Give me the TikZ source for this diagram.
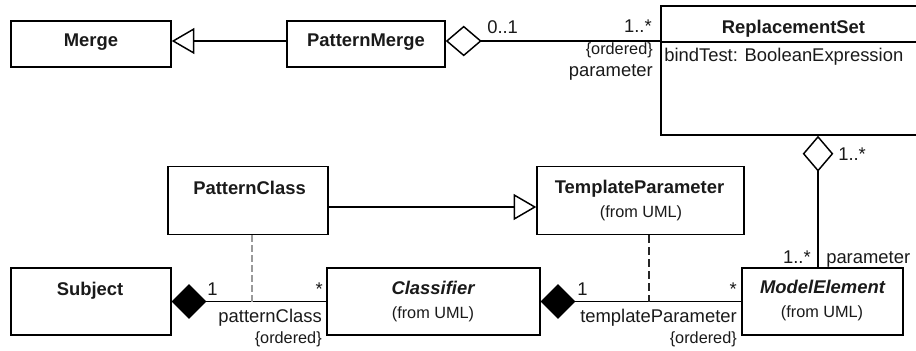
\documentclass[tikz,border=0pt]{standalone}
\usepackage{fontspec}
\setmainfont{Liberation Sans}
\usetikzlibrary{arrows.meta}
\definecolor{ink}{HTML}{1A1A1A}
\definecolor{dashgray}{HTML}{9A9A9A}
\begin{document}
\begin{tikzpicture}[x=0.75pt,y=-0.75pt,
  box/.style={draw=black, line width=1.1pt, fill=white, rectangle, inner sep=0pt},
  cname/.style={font=\fontsize{13.8}{16}\selectfont\bfseries, text=ink, inner sep=0pt, anchor=base},
  aname/.style={font=\fontsize{13.8}{16}\selectfont\bfseries\itshape, text=ink, inner sep=0pt, anchor=base},
  lbl/.style={font=\fontsize{13.8}{16}\selectfont, text=ink, inner sep=0pt},
  small/.style={font=\fontsize{12.2}{14}\selectfont, text=ink, inner sep=0pt},
  assoc/.style={draw=black, line width=1.1pt},
  gen/.style={assoc, -{Triangle[open, length=17pt, width=19.5pt, fill=white]}},
  agg/.style={assoc, {Diamond[open, length=27pt, width=23pt, fill=white]}-},
  comp/.style={assoc, {Diamond[length=26pt, width=26pt]}-},
  dashA/.style={draw=dashgray, line width=1.1pt, dash pattern=on 5pt off 2.5pt},
  dashB/.style={draw=black!85, line width=1pt, dash pattern=on 6pt off 3pt}
]
\useasboundingbox (0,0) rectangle (916,350);
\clip (0,0) rectangle (916,350);
\fill[white] (0,0) rectangle (916,350);

% helper coordinates for connector rows and columns
\coordinate (yA) at (0,41);
\coordinate (yG) at (0,207);
\coordinate (xR) at (818,0);
\coordinate (xD1) at (252,0);
\coordinate (xD2) at (649,0);

% class boxes
\node[box, minimum width=120pt, minimum height=34.5pt] (merge) at (91,44) {};
\node[box, minimum width=118.5pt, minimum height=34.5pt] (pmerge) at (366,44) {};
\node[box, minimum width=201.75pt, minimum height=96.75pt] (rs) at (795.5,70.5) {};
\node[box, minimum width=120pt, minimum height=51pt] (pclass) at (248,200.5) {};
\node[box, minimum width=155.25pt, minimum height=51pt] (tparam) at (640.5,200.5) {};
\node[box, minimum width=120pt, minimum height=50.25pt] (subject) at (91,301.5) {};
\node[box, minimum width=159.75pt, minimum height=50.25pt] (classifier) at (433.5,301.5) {};
\node[box, minimum width=120.75pt, minimum height=50.25pt] (modelel) at (822.5,301.5) {};

% attribute compartment of ReplacementSet
\draw[assoc] (rs.west |- 0,42) -- (rs.east |- 0,42);

% class names and compartments
\node[cname] (tmerge) at (91,46) {Merge};
\node[cname] (tpmerge) at (366,46) {PatternMerge};
\node[cname] (trs) at (793.5,33) {ReplacementSet};
\node[lbl, anchor=base west] (tbind) at (664,61) {bindTest: BooleanExpression};
\node[cname] (tpclass) at (249.5,194) {PatternClass};
\node[cname] (ttparam) at (639.5,193) {TemplateParameter};
\node[small, anchor=base] (ftparam) at (641,217) {(from UML)};
\node[cname] (tsubject) at (90,295) {Subject};
\node[aname] (tclassifier) at (433,294) {Classifier};
\node[small, anchor=base] (fclassifier) at (433,318) {(from UML)};
\node[aname] (tmodelel) at (822.5,293) {ModelElement};
\node[small, anchor=base] (fmodelel) at (822,317) {(from UML)};

% generalizations
\draw[gen] (pmerge.west |- yA) -- (merge.east |- yA);
\draw[gen] (pclass.east |- yG) -- (tparam.west |- yG);

% aggregations
\draw[agg] (pmerge.east |- yA) -- (rs.west |- yA);
\draw[agg] (rs.south -| xR) -- (modelel.north -| xR);

% compositions
\draw[comp] (subject.east) -- (classifier.west);
\draw[comp] (classifier.east) -- (modelel.west);

% association classes
\draw[dashA] (pclass.south -| xD1) -- (xD1 |- subject.east);
\draw[dashB] (tparam.south -| xD2) -- (xD2 |- classifier.east);

% association end labels
\node[lbl, anchor=base west] (m01) at (487,33) {0..1};
\node[lbl, anchor=base east] (m1sA) at (652,32) {1..*};
\node[small, anchor=base east] (ordA) at (653,54) {\{ordered\}};
\node[lbl, anchor=base east] (parA) at (653,76) {parameter};

\node[lbl, anchor=base west] (m1sB) at (838,160) {1..*};
\node[lbl, anchor=base east] (m1sC) at (811,263) {1..*};
\node[lbl, anchor=base west] (parB) at (826,263) {parameter};

\node[lbl, anchor=base west] (one1) at (207,295) {1};
\node[lbl, anchor=base east] (star1) at (323,295) {*};
\node[lbl, anchor=base east] (rpc) at (322,322) {patternClass};
\node[small, anchor=base east] (ordB) at (322,343) {\{ordered\}};

\node[lbl, anchor=base west] (one2) at (577,295) {1};
\node[lbl, anchor=base east] (star2) at (737,295) {*};
\node[lbl, anchor=base east] (rtp) at (737,322) {templateParameter};
\node[small, anchor=base east] (ordC) at (737,343) {\{ordered\}};
\end{tikzpicture}
\end{document}
